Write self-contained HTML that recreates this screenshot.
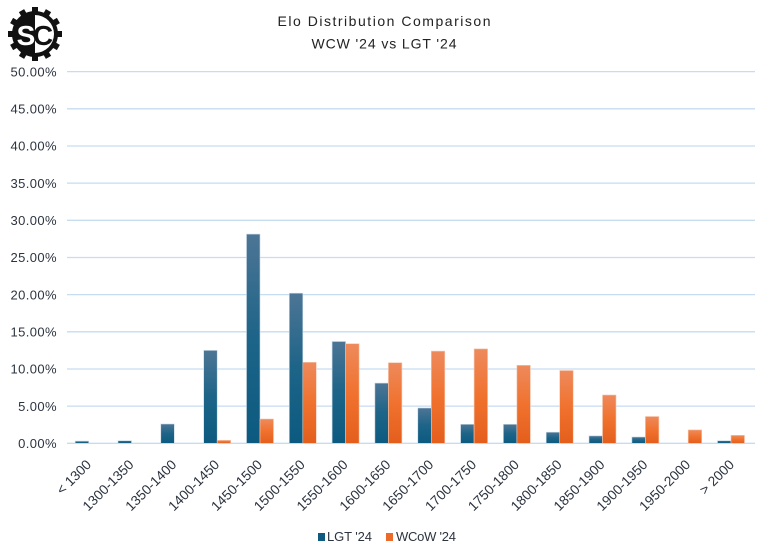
<!DOCTYPE html>
<html><head><meta charset="utf-8"><style>
html,body{margin:0;padding:0;background:#fff;}
svg{display:block;}
text{font-family:"Liberation Sans",sans-serif;fill:#2c3440;}
</style></head><body>
<svg width="768" height="559" viewBox="0 0 768 559" xmlns="http://www.w3.org/2000/svg">
<defs>
<linearGradient id="gb" x1="0" y1="0" x2="0" y2="1"><stop offset="0" stop-color="#4d7595"/><stop offset="0.5" stop-color="#1d6488"/><stop offset="1" stop-color="#0c5a80"/></linearGradient>
<linearGradient id="go" x1="0" y1="0" x2="0" y2="1"><stop offset="0" stop-color="#ee8a5c"/><stop offset="0.5" stop-color="#f0722e"/><stop offset="1" stop-color="#e45e1c"/></linearGradient>
</defs>
<rect width="768" height="559" fill="#fff"/>
<!-- logo -->
<g>
<g fill="#111">
<rect x="32" y="7" width="6" height="10" transform="rotate(0 35 34)"/>
<rect x="32" y="7" width="6" height="10" transform="rotate(30 35 34)"/>
<rect x="32" y="7" width="6" height="10" transform="rotate(60 35 34)"/>
<rect x="32" y="7" width="6" height="10" transform="rotate(90 35 34)"/>
<rect x="32" y="7" width="6" height="10" transform="rotate(120 35 34)"/>
<rect x="32" y="7" width="6" height="10" transform="rotate(150 35 34)"/>
<rect x="32" y="7" width="6" height="10" transform="rotate(180 35 34)"/>
<rect x="32" y="7" width="6" height="10" transform="rotate(210 35 34)"/>
<rect x="32" y="7" width="6" height="10" transform="rotate(240 35 34)"/>
<rect x="32" y="7" width="6" height="10" transform="rotate(270 35 34)"/>
<rect x="32" y="7" width="6" height="10" transform="rotate(300 35 34)"/>
<rect x="32" y="7" width="6" height="10" transform="rotate(330 35 34)"/>
<circle cx="35" cy="34" r="23"/>
</g>
<path d="M35,15 A19,19 0 0,1 35,53 Z" fill="#fff"/>
<text x="26" y="45" font-size="28" font-weight="bold" text-anchor="middle" style="fill:#fff">S</text>
<text x="43" y="45" font-size="28" font-weight="bold" text-anchor="middle" style="fill:#111">C</text>
</g>
<!-- title -->
<text x="384" y="26" font-size="14" text-anchor="middle" textLength="213" lengthAdjust="spacing" style="fill:#222">Elo Distribution Comparison</text>
<text x="384" y="48.5" font-size="14" text-anchor="middle" textLength="145" lengthAdjust="spacing" style="fill:#222">WCW '24 vs LGT '24</text>
<!-- gridlines -->
<g stroke="#c6dcf0" stroke-width="1.3">
<line x1="67" y1="443.3" x2="755" y2="443.3"/>
<line x1="67" y1="406.1" x2="755" y2="406.1"/>
<line x1="67" y1="369.0" x2="755" y2="369.0"/>
<line x1="67" y1="331.8" x2="755" y2="331.8"/>
<line x1="67" y1="294.6" x2="755" y2="294.6"/>
<line x1="67" y1="257.5" x2="755" y2="257.5"/>
<line x1="67" y1="220.3" x2="755" y2="220.3"/>
<line x1="67" y1="183.1" x2="755" y2="183.1"/>
<line x1="67" y1="146.0" x2="755" y2="146.0"/>
<line x1="67" y1="108.8" x2="755" y2="108.8"/>
<line x1="67" y1="71.6" x2="755" y2="71.6"/>
</g>
<!-- y labels -->
<g font-size="13" text-anchor="end" letter-spacing="0.4">
<text x="57" y="448">0.00%</text>
<text x="57" y="410.8">5.00%</text>
<text x="57" y="373.7">10.00%</text>
<text x="57" y="336.5">15.00%</text>
<text x="57" y="299.3">20.00%</text>
<text x="57" y="262.2">25.00%</text>
<text x="57" y="225">30.00%</text>
<text x="57" y="187.8">35.00%</text>
<text x="57" y="150.7">40.00%</text>
<text x="57" y="113.5">45.00%</text>
<text x="57" y="76.3">50.00%</text>
</g>
<!-- LGT bars -->
<g fill="url(#gb)" stroke="#c9d8e4" stroke-width="0.6">
<rect x="75.2" y="441.1" width="13.5" height="2.2"/>
<rect x="118" y="440.7" width="13.5" height="2.6"/>
<rect x="160.8" y="424.0" width="13.5" height="19.3"/>
<rect x="203.7" y="350.4" width="13.5" height="92.9"/>
<rect x="246.5" y="234.1" width="13.5" height="209.2"/>
<rect x="289.3" y="293.2" width="13.5" height="150.1"/>
<rect x="332.1" y="341.5" width="13.5" height="101.8"/>
<rect x="374.9" y="383.1" width="13.5" height="60.2"/>
<rect x="417.8" y="408.0" width="13.5" height="35.3"/>
<rect x="460.6" y="424.3" width="13.5" height="19.0"/>
<rect x="503.4" y="424.3" width="13.5" height="19.0"/>
<rect x="546.2" y="432.2" width="13.5" height="11.1"/>
<rect x="589" y="435.9" width="13.5" height="7.4"/>
<rect x="631.9" y="437.0" width="13.5" height="6.3"/>
<rect x="717.5" y="440.7" width="13.5" height="2.6"/>
</g>
<!-- WCoW bars -->
<g fill="url(#go)" stroke="#f6c8b0" stroke-width="0.6">
<rect x="217.2" y="440.3" width="13.5" height="3.0"/>
<rect x="260" y="419.0" width="13.5" height="24.3"/>
<rect x="302.8" y="362.3" width="13.5" height="81.0"/>
<rect x="345.6" y="343.7" width="13.5" height="99.6"/>
<rect x="388.4" y="362.7" width="13.5" height="80.6"/>
<rect x="431.3" y="351.1" width="13.5" height="92.2"/>
<rect x="474.1" y="348.9" width="13.5" height="94.4"/>
<rect x="516.9" y="365.3" width="13.5" height="78.0"/>
<rect x="559.7" y="370.5" width="13.5" height="72.8"/>
<rect x="602.5" y="395.0" width="13.5" height="48.3"/>
<rect x="645.4" y="416.5" width="13.5" height="26.8"/>
<rect x="688.2" y="429.9" width="13.5" height="13.4"/>
<rect x="731" y="435.3" width="13.5" height="8.0"/>
</g>
<!-- x labels -->
<g font-size="13.7" text-anchor="end">
<text x="92" y="465.5" transform="rotate(-45 92 465.5)">&lt; 1300</text>
<text x="134.5" y="465.5" transform="rotate(-45 134.5 465.5)">1300-1350</text>
<text x="177.3" y="465.5" transform="rotate(-45 177.3 465.5)">1350-1400</text>
<text x="220.2" y="465.5" transform="rotate(-45 220.2 465.5)">1400-1450</text>
<text x="263" y="465.5" transform="rotate(-45 263 465.5)">1450-1500</text>
<text x="305.8" y="465.5" transform="rotate(-45 305.8 465.5)">1500-1550</text>
<text x="348.6" y="465.5" transform="rotate(-45 348.6 465.5)">1550-1600</text>
<text x="391.4" y="465.5" transform="rotate(-45 391.4 465.5)">1600-1650</text>
<text x="434.3" y="465.5" transform="rotate(-45 434.3 465.5)">1650-1700</text>
<text x="477.1" y="465.5" transform="rotate(-45 477.1 465.5)">1700-1750</text>
<text x="519.9" y="465.5" transform="rotate(-45 519.9 465.5)">1750-1800</text>
<text x="562.7" y="465.5" transform="rotate(-45 562.7 465.5)">1800-1850</text>
<text x="605.5" y="465.5" transform="rotate(-45 605.5 465.5)">1850-1900</text>
<text x="648.4" y="465.5" transform="rotate(-45 648.4 465.5)">1900-1950</text>
<text x="691.2" y="465.5" transform="rotate(-45 691.2 465.5)">1950-2000</text>
<text x="735" y="465.5" transform="rotate(-45 735 465.5)">&gt; 2000</text>
</g>
<!-- legend -->
<rect x="318" y="533" width="7" height="8" fill="#0f5a80"/>
<text x="327" y="541" font-size="13" textLength="45" lengthAdjust="spacing">LGT '24</text>
<rect x="386" y="533" width="7" height="8" fill="#ec6a2a"/>
<text x="396" y="541" font-size="13" textLength="60" lengthAdjust="spacing">WCoW '24</text>
</svg>
</body></html>
